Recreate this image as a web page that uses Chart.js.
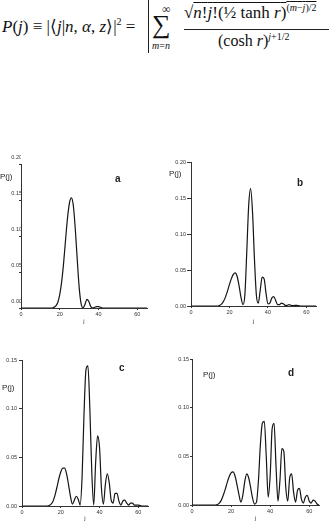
<!DOCTYPE html>
<html lang="en">
<head>
    <meta charset="utf-8">
    <title>P(j) panels</title>
    <style>
        body { margin: 0; background: #fff; width: 329px; height: 522px; overflow: hidden; position: relative; }
        canvas { position: absolute; }
        .t { position: absolute; white-space: nowrap; color: #111; line-height: 1; }
        .f { font-family: "Liberation Serif", serif; }
        .lab { font-family: "Liberation Sans", Arial, sans-serif; font-size: 8px; color: #222; }
        .let { font-family: "Liberation Sans", Arial, sans-serif; font-size: 10px; font-weight: bold; color: #222; }
    </style>
</head>
<body>
    <!-- formula header -->
    <div class="t f" style="left:2px; top:17px; font-size:17px;"><i>P</i>(<i>j</i>) &equiv; |&lang;<i>j</i>|<i>n</i>, <i>&alpha;</i>, <i>z</i>&rang;|<sup style="font-size:10px">2</sup> =</div>
    <div style="position:absolute; left:148px; top:0; width:1px; height:53px; background:#222;"></div>
    <div class="t f" style="left:162px; top:3px; font-size:12px;">&infin;</div>
    <div class="t f" style="left:152px; top:12px; font-size:26px;">&sum;</div>
    <div class="t f" style="left:152px; top:41px; font-size:10px;"><i>m</i>=<i>n</i></div>
    <div class="t f" style="left:184px; top:3px; font-size:17px;">&radic;<span style="text-decoration:overline"><i>n</i>!<i>j</i>!(&frac12; tanh <i>r</i>)<sup style="font-size:10px">(<i>m</i>&minus;<i>j</i>)/2</sup></span></div>
    <div style="position:absolute; left:184px; top:29px; width:145px; height:1px; background:#222;"></div>
    <div class="t f" style="left:218px; top:32px; font-size:16px;">(cosh <i>r</i>)<sup style="font-size:10px"><i>j</i>+1/2</sup></div>

    <canvas id="pa" style="left:0px; top:145px;" width="160" height="180"></canvas>
    <canvas id="pb" style="left:165px; top:145px;" width="164" height="180"></canvas>
    <canvas id="pc" style="left:0px; top:340px;" width="160" height="182"></canvas>
    <canvas id="pd" style="left:165px; top:340px;" width="164" height="182"></canvas>

    <div class="t lab" style="left:0px; top:173px;">P(j)</div>
    <div class="t let" style="left:115px; top:174px;">a</div>
    <div class="t lab" style="left:169px; top:170px;">P(j)</div>
    <div class="t let" style="left:297px; top:178px;">b</div>
    <div class="t lab" style="left:2px; top:384px;">P(j)</div>
    <div class="t let" style="left:119px; top:363px;">c</div>
    <div class="t lab" style="left:203px; top:371px;">P(j)</div>
    <div class="t let" style="left:288px; top:368px;">d</div>

    <script src="https://cdn.jsdelivr.net/npm/chart.js@4.4.0/dist/chart.umd.min.js"></script>
    <script>
        var jVals = [0,1,2,3,4,5,6,7,8,9,10,11,12,13,14,15,16,17,18,19,20,21,22,23,24,25,26,27,28,29,30,31,32,
                     33,34,35,36,37,38,39,40,41,42,43,44,45,46,47,48,49,50,51,52,53,54,55,56,57,58,59,60,61,62,63,64,65];

        // panel a
        var pA = [0,0,0,0,0,0,0,0,0,0,0,0,0,0,0,0,0,
                  0.001,0.003,0.008,0.019,0.037,0.063,0.095,0.125,0.146,0.153,0.142,0.110,0.068,0.029,0.006,0.000,
                  0.005,0.012,0.009,0.002,0.000,0.001,0.002,0.002,0.001,0,
                  0,0,0,0,0,0,0,0,0,0,0,0,0,0,0,0,0,0,0,0,0,0,0];
        // panel b
        var pB = [0,0,0,0,0,0,0,0,0,0,0,0,0,0,0,
                  0.001,0.003,0.007,0.013,0.021,0.030,0.038,0.044,0.046,0.041,0.028,0.012,0.002,0.015,0.075,0.140,
                  0.163,0.130,0.065,0.015,0.004,0.022,0.040,0.038,0.018,0.003,0.004,0.011,0.013,0.008,0.002,0.002,
                  0.004,0.003,0.001,0.001,0.002,0.001,0.0005,0.001,0.001,0.0005,0,0,0,0,0,0,0,0,0];
        // panel c
        var pC = [0,0,0,0,0,0,0,0,0,0,0,0,0,0,
                  0.0005,0.002,0.005,0.011,0.019,0.028,0.035,0.039,0.039,0.033,0.022,0.010,0.002,0.006,0.010,0.007,
                  0.001,0.030,0.095,0.140,0.144,0.100,0.035,0.001,0.045,0.072,0.060,0.018,0.002,0.022,0.033,0.024,
                  0.006,0.003,0.013,0.013,0.005,0.001,0.005,0.006,0.003,0.001,0.003,0.003,0.001,0.001,0.001,0.0005,
                  0,0,0,0];
        // panel d
        var pD = [0,0,0,0,0,0,0,0,0,0,0,0,0,
                  0.0005,0.002,0.005,0.010,0.016,0.023,0.029,0.033,0.034,0.030,0.021,0.011,0.003,0.010,0.024,0.032,
                  0.028,0.018,0.007,0.001,0.003,0.025,0.062,0.084,0.086,0.050,0.008,0.030,0.078,0.084,0.040,0.004,
                  0.025,0.058,0.055,0.018,0.004,0.028,0.032,0.013,0.003,0.015,0.017,0.006,0.002,0.008,0.010,0.004,
                  0.002,0.005,0.004,0.001,0];

        var xTicks = [0, 20, 40, 60];

        function makePanel(id, vals, yMax, geo) {
            var pts = jVals.map(function(j, i) { return { x: j, y: vals[i] }; });
            return new Chart(document.getElementById(id), {
                type: 'line',
                data: { datasets: [{ data: pts, borderColor: '#151515', borderWidth: 1.2, pointRadius: 0,
                                     cubicInterpolationMode: 'monotone', fill: false }] },
                options: {
                    responsive: false, animation: false,
                    layout: { padding: { top: geo.top, right: geo.right, left: 0, bottom: 0 } },
                    plugins: { legend: { display: false }, tooltip: { enabled: false } },
                    scales: {
                        x: {
                            type: 'linear', min: 0, max: 65,
                            afterBuildTicks: function(s) { s.ticks = xTicks.map(function(v) { return { value: v }; }); },
                            afterFit: function(s) { s.height = geo.xh; },
                            border: { display: true, color: '#333', width: 1 },
                            grid: { drawOnChartArea: false, tickLength: 2, color: '#333' },
                            ticks: { padding: 1, color: '#333', font: { family: 'Liberation Sans', size: 5.5 }, maxRotation: 0 },
                            title: { display: true, text: 'j', color: '#333', padding: 0,
                                     font: { family: 'Liberation Sans', size: 6 } }
                        },
                        y: {
                            min: 0, max: yMax,
                            afterFit: function(s) { s.width = geo.yw; },
                            border: { display: true, color: '#333', width: 1 },
                            grid: { drawOnChartArea: false, tickLength: geo.tl, color: '#333' },
                            ticks: { stepSize: 0.05, padding: geo.pad, labelOffset: geo.lo || 0, color: '#333',
                                     font: { family: 'Liberation Sans', size: 5.5 },
                                     callback: function(v) { return v.toFixed(2); } }
                        }
                    }
                }
            });
        }

        makePanel('pa', pA, 0.20, { top: 19, right: 13, xh: 17, yw: 21, tl: 2, pad: -3, lo: -7 });
        makePanel('pb', pB, 0.20, { top: 17, right: 13, xh: 19, yw: 26, tl: 4, pad: 1 });
        makePanel('pc', pC, 0.15, { top: 20, right: 12, xh: 16, yw: 22, tl: 3, pad: 2 });
        makePanel('pd', pD, 0.15, { top: 19, right: 10, xh: 17, yw: 27, tl: 2, pad: 1 });
    </script>
</body>
</html>
